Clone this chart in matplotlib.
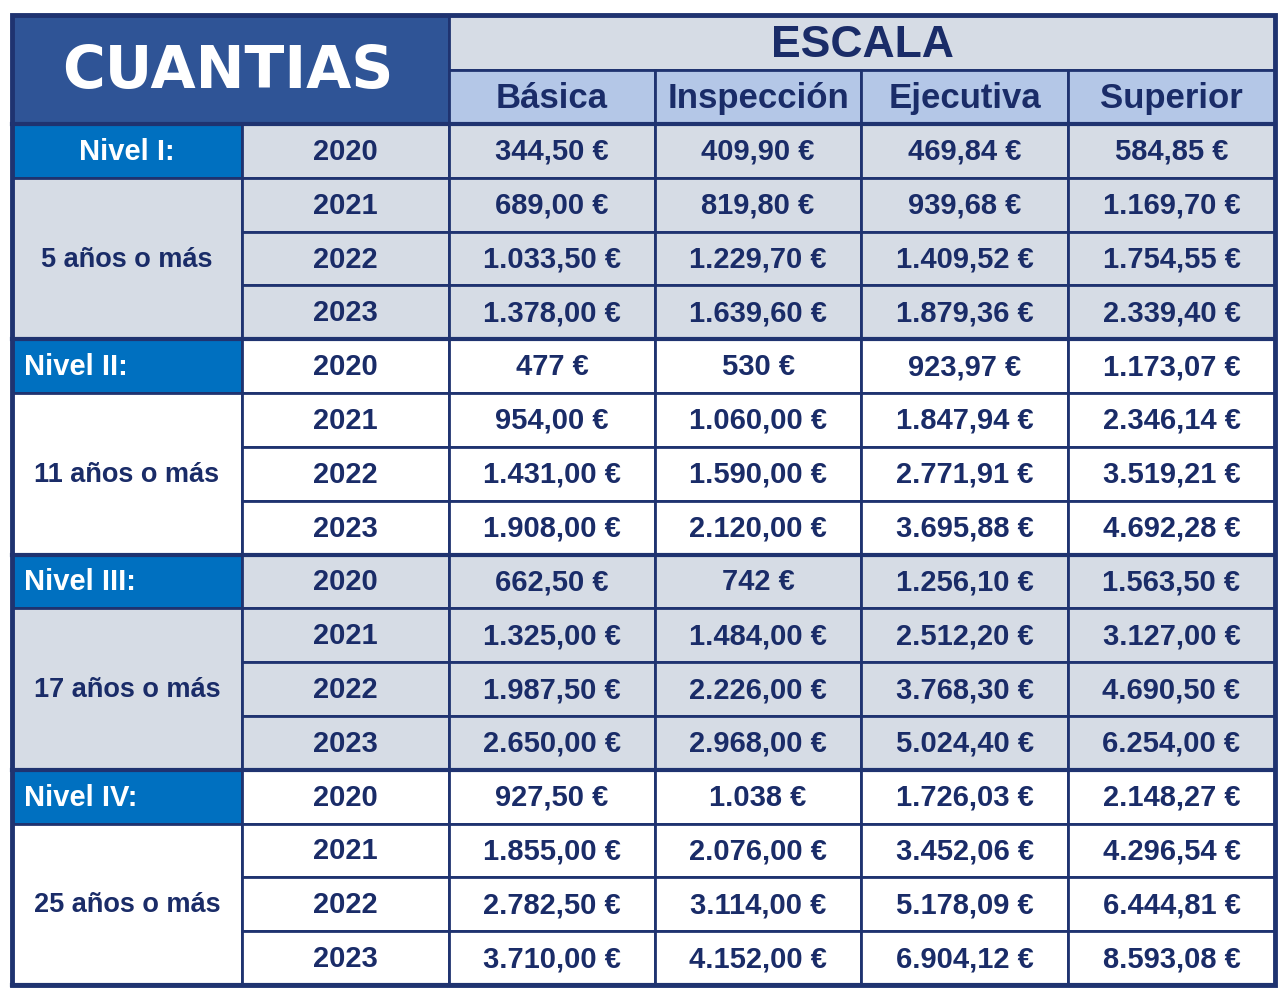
import matplotlib.pyplot as plt
from matplotlib.patches import Rectangle

# ---------------- data ----------------
escalas = ['Básica', 'Inspección', 'Ejecutiva', 'Superior']
niveles = ['Nivel I:', 'Nivel II:', 'Nivel III:', 'Nivel IV:']
antiguedad = ['5 años o más', '11 años o más', '17 años o más', '25 años o más']
years = ['2020', '2021', '2022', '2023']

basica = ['344,50 €', '689,00 €', '1.033,50 €', '1.378,00 €',
          '477 €', '954,00 €', '1.431,00 €', '1.908,00 €',
          '662,50 €', '1.325,00 €', '1.987,50 €', '2.650,00 €',
          '927,50 €', '1.855,00 €', '2.782,50 €', '3.710,00 €']
inspeccion = ['409,90 €', '819,80 €', '1.229,70 €', '1.639,60 €',
              '530 €', '1.060,00 €', '1.590,00 €', '2.120,00 €',
              '742 €', '1.484,00 €', '2.226,00 €', '2.968,00 €',
              '1.038 €', '2.076,00 €', '3.114,00 €', '4.152,00 €']
ejecutiva = ['469,84 €', '939,68 €', '1.409,52 €', '1.879,36 €',
             '923,97 €', '1.847,94 €', '2.771,91 €', '3.695,88 €',
             '1.256,10 €', '2.512,20 €', '3.768,30 €', '5.024,40 €',
             '1.726,03 €', '3.452,06 €', '5.178,09 €', '6.904,12 €']
superior = ['584,85 €', '1.169,70 €', '1.754,55 €', '2.339,40 €',
            '1.173,07 €', '2.346,14 €', '3.519,21 €', '4.692,28 €',
            '1.563,50 €', '3.127,00 €', '4.690,50 €', '6.254,00 €',
            '2.148,27 €', '4.296,54 €', '6.444,81 €', '8.593,08 €']
columnas = [basica, inspeccion, ejecutiva, superior]

# ---------------- layout ----------------
NAVY = '#1a2c68'
BORDER = '#1f3370'
DARK = '#2f5496'
NIVEL = '#0070c0'
GREY = '#d6dce5'
SUB = '#b4c7e7'
FONT = 'Liberation Sans'

xs = [12, 242, 449, 655, 861, 1068, 1275]
y_top, y_mid, y_head = 15, 70, 124
y_bot = 985
nrows = 16
rh = (y_bot - y_head) / nrows

fig = plt.figure(figsize=(12.84, 9.98), dpi=100)
ax = fig.add_axes([0, 0, 1, 1])
ax.set_xlim(0, 1284)
ax.set_ylim(998, 0)
ax.axis('off')


def cell(x0, x1, y0, y1, fc, text=None, color=NAVY, size=21, ha='center', lw=2):
    ax.add_patch(Rectangle((x0, y0), x1 - x0, y1 - y0, facecolor=fc,
                           edgecolor=BORDER, lw=lw, zorder=1))
    if text is not None:
        tx = (x0 + x1) / 2 if ha == 'center' else x0 + 12
        ax.text(tx, (y0 + y1) / 2 + 1, text, ha=ha, va='center', color=color,
                fontsize=size, fontweight='bold', family=FONT, zorder=3)


# header
cell(xs[0], xs[2], y_top, y_head, DARK)
ax.text((xs[0] + xs[2]) / 2 - 3, (y_top + y_head) / 2 + 2, 'CUANTIAS', ha='center',
        va='center', color='white', fontsize=42, fontweight='bold',
        family='DejaVu Sans', zorder=3)
cell(xs[2], xs[6], y_top, y_mid, GREY)
ax.text((xs[2] + xs[6]) / 2, (y_top + y_mid) / 2 + 3, 'ESCALA', ha='center',
        va='center', color=NAVY, fontsize=32, fontweight='bold', family=FONT,
        zorder=3)
for j, name in enumerate(escalas):
    cell(xs[2 + j], xs[3 + j], y_mid, y_head, SUB, name, size=25)

# body
for g in range(4):
    bg = GREY if g % 2 == 0 else 'white'
    r0 = y_head + g * 4 * rh
    cell(xs[0], xs[1], r0, r0 + rh, NIVEL, niveles[g], color='white', size=21,
         ha='center' if g == 0 else 'left')
    cell(xs[0], xs[1], r0 + rh, r0 + 4 * rh, bg, antiguedad[g], size=19.5)
    for k in range(4):
        i = g * 4 + k
        y0 = r0 + k * rh
        cell(xs[1], xs[2], y0, y0 + rh, bg, years[k], size=21)
        for j, col in enumerate(columnas):
            cell(xs[2 + j], xs[3 + j], y0, y0 + rh, bg, col[i], size=21)

# thicker lines on group boundaries and outer frame
for g in range(5):
    yy = y_head + g * 4 * rh
    ax.plot([xs[0], xs[6]], [yy, yy], color=BORDER, lw=3, zorder=2)
ax.add_patch(Rectangle((xs[0], y_top), xs[6] - xs[0], y_bot - y_top,
                       fill=False, edgecolor=BORDER, lw=3.5, zorder=4))

fig.savefig('out.png', dpi=100)
